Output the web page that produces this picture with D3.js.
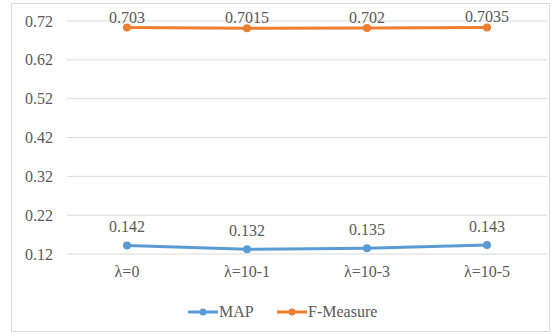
<!DOCTYPE html>
<html>
<head>
<meta charset="utf-8">
<script src="https://cdn.jsdelivr.net/npm/d3@7"></script>
<style>
  body { margin: 0; background: #fff; }
</style>
</head>
<body>
<div id="chart"></div>
<script>
// chart data
const categories = ["λ=0", "λ=10-1", "λ=10-3", "λ=10-5"];
const mapValues = [0.142, 0.132, 0.135, 0.143];
const fValues = [0.703, 0.7015, 0.702, 0.7035];
const mapLabels = ["0.142", "0.132", "0.135", "0.143"];
const fLabels = ["0.703", "0.7015", "0.702", "0.7035"];
const yTicks = [0.12, 0.22, 0.32, 0.42, 0.52, 0.62, 0.72];
const seriesNames = ["MAP", "F-Measure"];
const colors = ["#5b9bd5", "#ed7d31"];

const W = 552, H = 333;
const margin = { top: 21, right: 5, bottom: 79, left: 67 };
const width = W - margin.left - margin.right;
const height = H - margin.top - margin.bottom;

const svg = d3.select("#chart").append("svg")
  .attr("width", W).attr("height", H)
  .attr("font-family", "Liberation Serif");

// outer chart border
svg.append("rect")
  .attr("x", 11.5).attr("y", 3.5)
  .attr("width", W - 14).attr("height", H - 5)
  .attr("fill", "none").attr("stroke", "#d9d9d9");

const g = svg.append("g")
  .attr("transform", "translate(" + margin.left + "," + margin.top + ")");

const x = d3.scaleBand().domain(categories).range([0, width]);
const y = d3.scaleLinear().domain([0.12, 0.72]).range([height, 0]);

function styleText(sel) {
  sel.attr("font-family", "Liberation Serif").attr("font-size", 16).attr("fill", "#595959");
}

// gridlines
g.selectAll(".grid").data(yTicks).enter().append("line")
  .attr("x1", 0).attr("x2", width)
  .attr("y1", d => y(d)).attr("y2", d => y(d))
  .attr("stroke", "#d9d9d9").attr("stroke-width", 1);

// y axis labels
const yAxis = d3.axisLeft(y).tickValues(yTicks).tickFormat(d3.format(".2f")).tickSize(0).tickPadding(14);
g.append("g").call(yAxis)
  .attr("font-family", "Liberation Serif")
  .call(s => s.select(".domain").remove())
  .selectAll("text").call(styleText);

// x axis labels
const xAxis = d3.axisBottom(x).tickSize(0).tickPadding(12);
g.append("g").attr("transform", "translate(0," + height + ")").call(xAxis)
  .attr("font-family", "Liberation Serif")
  .call(s => s.select(".domain").remove())
  .selectAll("text").call(styleText);

// label offset: F-Measure labels are squeezed against the top of the plot
const series = [
  { name: seriesNames[0], values: mapValues, labels: mapLabels, color: colors[0], dy: 13 },
  { name: seriesNames[1], values: fValues, labels: fLabels, color: colors[1], dy: 5 }
];

const line = d3.line()
  .x((d, i) => x(categories[i]) + x.bandwidth() / 2)
  .y(d => y(d));

series.forEach(s => {
  g.append("path").datum(s.values)
    .attr("d", line)
    .attr("fill", "none")
    .attr("stroke", s.color)
    .attr("stroke-width", 3)
    .attr("stroke-linecap", "round");

  g.selectAll(null).data(s.values).enter().append("circle")
    .attr("cx", (d, i) => x(categories[i]) + x.bandwidth() / 2)
    .attr("cy", d => y(d))
    .attr("r", 4)
    .attr("fill", s.color);

  g.selectAll(null).data(s.values).enter().append("text")
    .attr("x", (d, i) => x(categories[i]) + x.bandwidth() / 2)
    .attr("y", d => y(d) - s.dy)
    .attr("text-anchor", "middle")
    .call(styleText)
    .text((d, i) => s.labels[i]);
});

// legend
const legendX = [188, 277];
const legend = svg.append("g").attr("transform", "translate(0,312)");
series.forEach((s, i) => {
  const lg = legend.append("g").attr("transform", "translate(" + legendX[i] + ",0)");
  lg.append("line").attr("x1", 0).attr("x2", 30).attr("y1", 0).attr("y2", 0)
    .attr("stroke", s.color).attr("stroke-width", 3);
  lg.append("circle").attr("cx", 15).attr("cy", 0).attr("r", 3.5).attr("fill", s.color);
  lg.append("text").attr("x", 31).attr("y", 5).call(styleText).text(s.name);
});
</script>
</body>
</html>
